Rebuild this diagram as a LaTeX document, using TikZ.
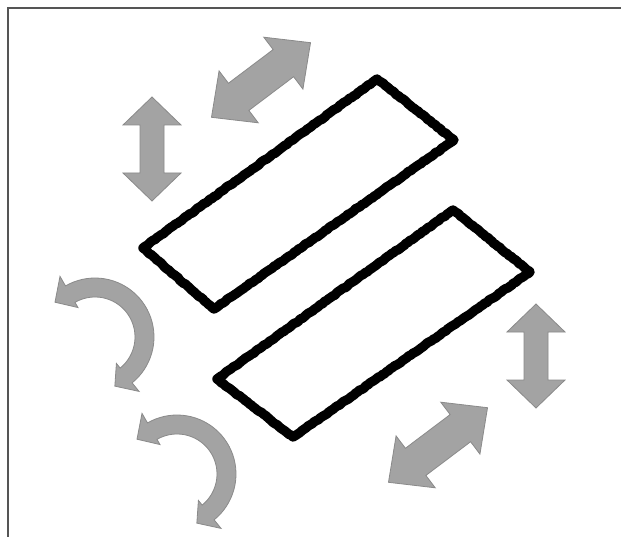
\documentclass[tikz,border=0pt]{standalone}
\usepackage{tikz}
\usetikzlibrary{decorations.pathmorphing}
\definecolor{arrfill}{HTML}{A3A3A3}
\definecolor{arredge}{HTML}{8A8A8A}
\definecolor{framecol}{HTML}{555555}
\tikzset{
  grayarrow/.style={fill=arrfill, draw=arredge, line width=0.8pt, line join=miter},
  blackbox/.style={draw=black, line width=9.5pt, line join=round,
    decorate, decoration={random steps, segment length=2.5pt, amplitude=0.5pt}},
}
\pgfmathsetseed{7}
\begin{document}
\begin{tikzpicture}[x=1pt, y=-1pt]
\useasboundingbox (0,0) rectangle (621,537);
\fill[white] (0,0) rectangle (621,537);
% frame
\draw[framecol, line width=2.5pt] (7,8) -- (621,8);
\draw[framecol, line width=1.1pt] (8,8) -- (8,537);

% black rectangles
\coordinate (a1) at (143,248);
\coordinate (a2) at (377,79);
\coordinate (a3) at (454,140);
\coordinate (a4) at (214,309);
\draw[blackbox] (a1) -- (a2) -- (a3) -- (a4) -- cycle;
\coordinate (b1) at (217,379);
\coordinate (b2) at (453,210);
\coordinate (b3) at (530,272);
\coordinate (b4) at (293,437);
\draw[blackbox] (b1) -- (b2) -- (b3) -- (b4) -- cycle;

% vertical double arrows
\foreach \cx/\ty in {152/97, 536/304} {
  \begin{scope}[shift={(\cx,\ty)}]
    \draw[grayarrow] (0,0) -- (29,28) -- (12,28) -- (12,76) -- (29,76) -- (0,104)
      -- (-29,76) -- (-12,76) -- (-12,28) -- (-29,28) -- cycle;
  \end{scope}
}

% diagonal double arrows
\foreach \cx/\cy in {261/80, 438/445} {
  \begin{scope}[shift={(\cx,\cy)}, rotate=37]
    \draw[grayarrow] (62,0) -- (28,32.5) -- (28,17) -- (-28,17) -- (-28,32.5) -- (-62,0)
      -- (-28,-32.5) -- (-28,-17) -- (28,-17) -- (28,-32.5) -- cycle;
  \end{scope}
}

% curved arrows
\foreach \cx/\cy in {95/337, 177/474} {
  \begin{scope}[shift={(\cx,\cy)}]
    \draw[grayarrow] (-120:59)
      -- plot[domain=-120:51, samples=40] ({59*cos(\x)}, {59*sin(\x)})
      -- (51:70) -- (68:53) -- (51:34) -- (51:40)
      -- plot[domain=51:-120, samples=40] ({40*cos(\x)}, {40*sin(\x)})
      -- (-120:34) -- (-139:53) -- (-120:70) -- cycle;
  \end{scope}
}
\end{tikzpicture}
\end{document}
